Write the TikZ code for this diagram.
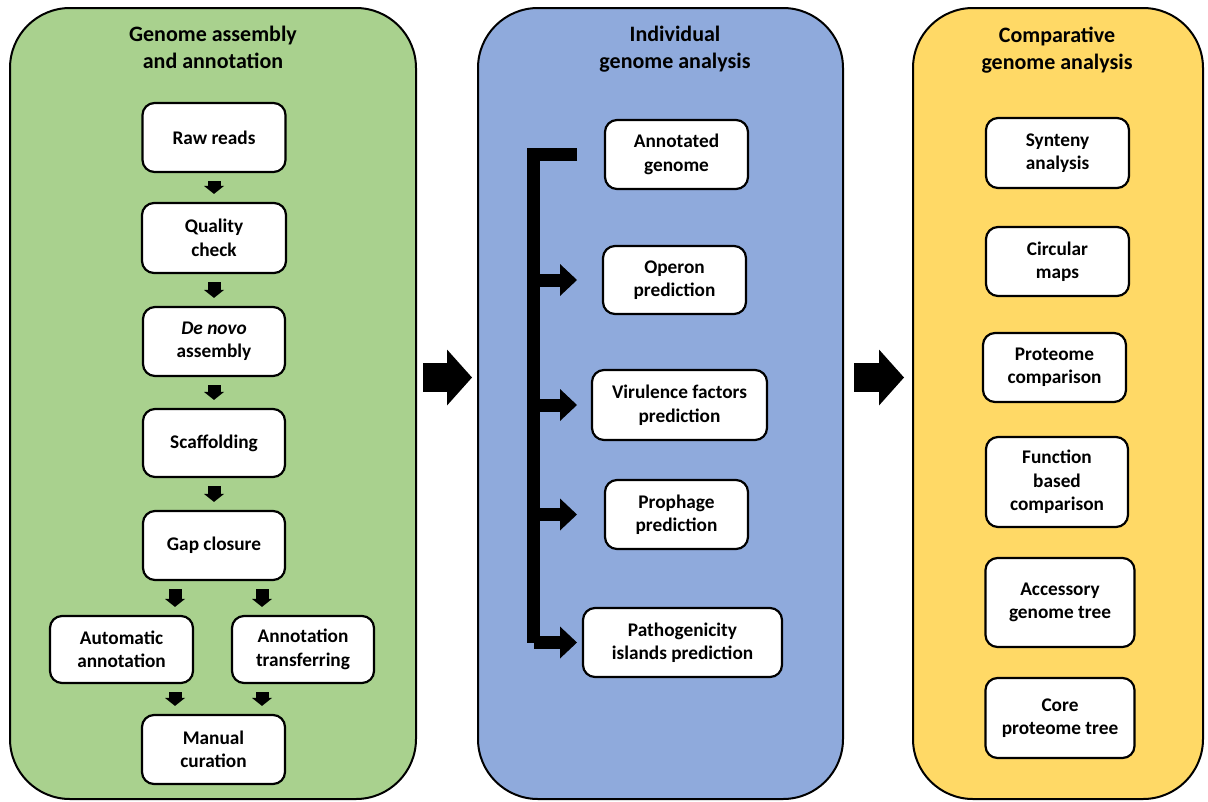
\documentclass[tikz,border=0pt]{standalone}
\usepackage{fontspec}
\setmainfont{Carlito}
\usetikzlibrary{arrows.meta}

\definecolor{grn}{HTML}{A9D18E}
\definecolor{blu}{HTML}{8FAADC}
\definecolor{ylw}{HTML}{FFD966}

\begin{document}
\begin{tikzpicture}[x=1pt,y=-1pt]
	\tikzset{Panel/.style =
		{draw,
			line width = 2pt,
			rounded corners = 60pt,
			inner sep = 0pt},
		Title/.style = {align = center, font = \bfseries\fontsize{22}{27}\selectfont},
		Box/.style =
		{draw,
			fill = white,
			line width = 2.2pt,
			rounded corners = 12pt,
			align = center,
			inner sep = 0pt,
			font = \bfseries\fontsize{19.3}{23.5}\selectfont},
		Step/.style = {line width = 13pt, shorten < = 8pt, shorten > = 8pt,
			-{Triangle[width = 20pt, length = 8pt, line width = 0pt]}},
		Bus/.style = {line width = 13pt, line join = miter},
		Branch/.style = {Bus, -{Triangle[width = 32pt, length = 17pt, line width = 0pt]}},
		Big/.style = {line width = 29pt,
			-{Triangle[width = 56pt, length = 25pt, line width = 0pt]}}}
	\useasboundingbox (0,0) rectangle (1208,801);
	% panels
	\node[Panel, fill = grn, minimum width = 406, minimum height = 791] (GP) at (213,403.5) {};
	\node[Panel, fill = blu, minimum width = 365, minimum height = 791] (BP) at (660.5,403.5) {};
	\node[Panel, fill = ylw, minimum width = 290, minimum height = 791] (YP) at (1058,403.5) {};
	\node[Title] (GT) at (213,47.5) {Genome assembly\\and annotation};
	\node[Title] (BT) at (675,49.5) {Individual\\genome analysis};
	\node[Title] (YT) at (1057,50) {Comparative\\genome analysis};
	% assembly and annotation
	\node[Box, minimum width = 143, minimum height = 69] (raw) at (214,137.5) {Raw reads};
	\node[Box, minimum width = 144, minimum height = 70] (qc) at (214,238) {Quality\\check};
	\node[Box, minimum width = 142, minimum height = 69] (dn) at (214,341.5) {\textit{De novo}\\assembly};
	\node[Box, minimum width = 142, minimum height = 68] (sc) at (214,443) {Scaffolding};
	\node[Box, minimum width = 142, minimum height = 69] (gc) at (214,545.5) {Gap closure};
	\node[Box, minimum width = 143, minimum height = 67] (aa) at (121.5,649.5) {Automatic\\annotation};
	\node[Box, minimum width = 142, minimum height = 67] (at) at (303,649.5) {Annotation\\transferring};
	\node[Box, minimum width = 143, minimum height = 69] (mc) at (213.5,749.5) {Manual\\curation};
	\draw[Step] (raw) -- (qc);
	\draw[Step] (qc) -- (dn);
	\draw[Step] (dn) -- (sc);
	\draw[Step] (sc) -- (gc);
	\draw[Step] (gc.south -| 175,0) -- (aa.north -| 175,0);
	\draw[Step] (gc.south -| 262,0) -- (at.north -| 262,0);
	\draw[Step] (aa.south -| 175,0) -- (mc.north -| 175,0);
	\draw[Step] (at.south -| 262,0) -- (mc.north -| 262,0);
	% individual analysis
	\node[Box, minimum width = 143, minimum height = 69] (ann) at (676.5,154.5) {Annotated\\genome};
	\node[Box, minimum width = 143, minimum height = 68] (op) at (674.5,280) {Operon\\prediction};
	\node[Box, minimum width = 175, minimum height = 70] (vf) at (679.5,405) {Virulence factors\\prediction};
	\node[Box, minimum width = 143, minimum height = 69] (pp) at (676.5,514.5) {Prophage\\prediction};
	\node[Box, minimum width = 199, minimum height = 69] (pi) at (682.5,642.5) {Pathogenicity\\islands prediction};
	\coordinate (bus) at (533.5,0);
	\coordinate (tip) at (577,0);
	\draw[Bus] (ann.west -| tip) -- (ann.west -| bus) -- (pi.west -| bus);
	\draw[Branch] (pi.west -| bus) -- (pi.west -| tip);
	\draw[Branch] (op.west -| bus) -- (op.west -| tip);
	\draw[Branch] (vf.west -| bus) -- (vf.west -| tip);
	\draw[Branch] (pp.west -| bus) -- (pp.west -| tip);
	% comparative analysis
	\node[Box, minimum width = 143, minimum height = 70] (syn) at (1057.5,153) {Synteny\\analysis};
	\node[Box, minimum width = 143, minimum height = 69] (cm) at (1057.5,261.5) {Circular\\maps};
	\node[Box, minimum width = 143, minimum height = 69] (pc) at (1054.5,367.5) {Proteome\\comparison};
	\node[Box, minimum width = 142, minimum height = 90] (fb) at (1057,482) {Function\\based\\comparison};
	\node[Box, minimum width = 149, minimum height = 89] (ag) at (1060,602.5) {Accessory\\genome tree};
	\node[Box, minimum width = 149, minimum height = 80] (cp) at (1060,718) {Core\\proteome tree};
	% between panels
	\draw[Big, shorten < = 6pt, shorten > = 5pt] ([yshift = 26pt]GP.east) -- ([yshift = 26pt]BP.west);
	\draw[Big, shorten < = 10pt, shorten > = 8pt] ([yshift = 26pt]BP.east) -- ([yshift = 26pt]YP.west);
\end{tikzpicture}
\end{document}
